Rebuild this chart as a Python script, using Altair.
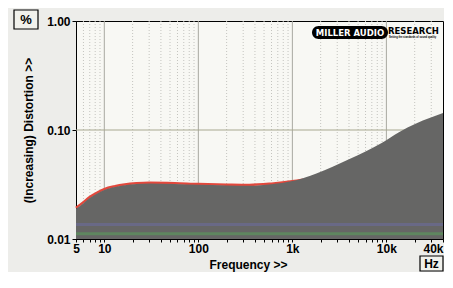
import altair as alt
import pandas as pd

# ---- data ----
freq = [5, 6, 7, 8.5, 10, 13, 16.5, 22, 30, 56, 100, 200, 350, 600, 1000, 1800, 4000, 9000,
        13600, 20700, 40000]
thd = [0.0189, 0.0213, 0.0238, 0.0263, 0.0282, 0.0300, 0.0311, 0.0319, 0.0323, 0.0320,
       0.0314, 0.0310, 0.0308, 0.0318, 0.034, 0.040, 0.054, 0.0765, 0.0955, 0.1146, 0.143]
red_freq = [5, 6, 7, 8.5, 10, 13, 16.5, 22, 30, 56, 100, 200, 350, 600, 1000, 1300]
red_thd = [0.0193, 0.0218, 0.0243, 0.0268, 0.0287, 0.0305, 0.0316, 0.0324, 0.0328, 0.0325,
           0.0319, 0.0315, 0.0313, 0.0322, 0.0338, 0.035]
blue_freq = [5, 40000]
blue_thd = [0.0136, 0.0136]
green_freq = [5, 40000]
green_thd = [0.0112, 0.0112]

x_ticks = [5, 6, 7, 8, 9, 10, 20, 30, 40, 50, 60, 70, 80, 90, 100, 200, 300, 400, 500,
           600, 700, 800, 900, 1000, 2000, 3000, 4000, 5000, 6000, 7000, 8000, 9000,
           10000, 20000, 30000, 40000]
major_grid = [10, 100, 1000, 10000]
minor_grid = [6, 7, 8, 9, 20, 30, 40, 50, 60, 70, 80, 90, 200, 300, 400, 500, 600, 700,
              800, 900, 2000, 3000, 4000, 5000, 6000, 7000, 8000, 9000, 20000, 30000]
y_ticks = [0.01, 0.1, 1.0]

FONT = "Liberation Sans"
xs = alt.Scale(type="log", domain=[5, 40000], nice=False)
ys = alt.Scale(type="log", domain=[0.01, 1.0], nice=False)

main = pd.DataFrame({"f": freq, "v": thd})
red = pd.DataFrame({"f": red_freq, "v": red_thd})
blue = pd.DataFrame({"f": blue_freq, "v": blue_thd})
green = pd.DataFrame({"f": green_freq, "v": green_thd})

label_expr = ("datum.value==5?'5':datum.value==10?'10':datum.value==100?'100':"
              "datum.value==1000?'1k':datum.value==10000?'10k':datum.value==40000?'40k':''")

x_enc = alt.X("f:Q", scale=xs, axis=alt.Axis(
    title="Frequency >>", values=x_ticks, labelExpr=label_expr, grid=False,
    labelFont=FONT, labelFontWeight="bold", labelFontSize=12, labelColor="black",
    titleFont=FONT, titleFontWeight="bold", titleFontSize=12, titleColor="black",
    tickSize=3, tickColor="black", domainColor="black", labelPadding=1, titlePadding=5,
    titleX=172,
    labelAlign={"condition": {"test": "datum.value == 40000", "value": "right"}, "value": "center"},
    labelFlush=False, labelOverlap=False))
y_enc = alt.Y("v:Q", scale=ys, axis=alt.Axis(
    title="(Increasing) Distortion >>", values=y_ticks, format=".2f", grid=False,
    labelFont=FONT, labelFontWeight="bold", labelFontSize=12, labelColor="black",
    titleFont=FONT, titleFontWeight="bold", titleFontSize=12, titleColor="black",
    tickSize=4, tickColor="black", domainColor="black", labelPadding=2, titlePadding=11))

grid_minor = alt.Chart(pd.DataFrame({"f": minor_grid})).mark_rule(
    color="#c4c4bf", strokeDash=[1, 2], strokeWidth=1).encode(x=alt.X("f:Q", scale=xs))
grid_major = alt.Chart(pd.DataFrame({"f": major_grid})).mark_rule(
    color="#a8a8a0", strokeWidth=1).encode(x=alt.X("f:Q", scale=xs))
grid_h = alt.Chart(pd.DataFrame({"v": [0.1]})).mark_rule(
    color="#a8a890", strokeWidth=1).encode(y=alt.Y("v:Q", scale=ys))

red_line = alt.Chart(red).mark_line(color="#e2483c", strokeWidth=2.5, interpolate="monotone").encode(
    x=alt.X("f:Q", scale=xs), y=alt.Y("v:Q", scale=ys))
area = alt.Chart(main).mark_area(color="#666665", interpolate="monotone").encode(
    x=x_enc, y=y_enc, y2=alt.datum(0.01))
blue_line = alt.Chart(blue).mark_line(color="#6a6a8e", strokeWidth=3, opacity=0.8).encode(
    x=alt.X("f:Q", scale=xs), y=alt.Y("v:Q", scale=ys))
green_line = alt.Chart(green).mark_line(color="#5e8a5e", strokeWidth=3, opacity=0.9).encode(
    x=alt.X("f:Q", scale=xs), y=alt.Y("v:Q", scale=ys))

one = pd.DataFrame({"a": [0]})
# boxed unit labels
pct_box = alt.Chart(one).mark_rect(
    fill="#f1f1ec", stroke="black", strokeWidth=1.2).encode(
    x=alt.value(-62), x2=alt.value(-38), y=alt.value(-11), y2=alt.value(8))
pct_txt = alt.Chart(one).mark_text(
    text="%", font=FONT, fontWeight="bold", fontSize=13, color="black", align="center", baseline="middle").encode(
    x=alt.value(-50), y=alt.value(-1))
hz_box = alt.Chart(one).mark_rect(
    fill="#f1f1ec", stroke="black", strokeWidth=1.2).encode(
    x=alt.value(344), x2=alt.value(367), y=alt.value(235), y2=alt.value(250))
hz_txt = alt.Chart(one).mark_text(
    text="Hz", font=FONT, fontWeight="bold", fontSize=12, color="black", align="center", baseline="middle").encode(
    x=alt.value(355.5), y=alt.value(243))

# logo
logo_ell = alt.Chart(one).mark_rect(
    fill="black", cornerRadius=7).encode(
    x=alt.value(236), x2=alt.value(312), y=alt.value(5), y2=alt.value(18))
logo_t1 = alt.Chart(one).mark_text(
    text="MILLER AUDIO", font="DejaVu Sans", fontWeight="bold", fontSize=8.5, color="white", align="center", baseline="middle").encode(
    x=alt.value(274), y=alt.value(11.5))
logo_t2 = alt.Chart(one).mark_text(
    text="RESEARCH", font="DejaVu Sans", fontWeight="bold", fontSize=8.5, color="black", align="left", baseline="middle").encode(
    x=alt.value(312), y=alt.value(10))
logo_t3 = alt.Chart(one).mark_text(
    text="Setting the standards of sound quality", font=FONT, fontWeight="bold", fontSize=2.6, color="black", align="left", baseline="middle").encode(
    x=alt.value(313), y=alt.value(16.5))

chart = alt.layer(
    grid_minor, grid_major, grid_h, red_line, area, blue_line, green_line,
    logo_ell, logo_t1, logo_t2, logo_t3, pct_box, pct_txt, hz_box, hz_txt
).properties(
    width=367, height=218,
    padding={"left": 68, "top": 13, "right": 1, "bottom": 33},
    autosize=alt.AutoSizeParams(type="none"),
    background="#ededea"
).configure_view(
    fill="#f8f8f4", stroke="black", strokeWidth=1
)

chart.save("out.html", embed_options={"renderer": "svg", "actions": False})
